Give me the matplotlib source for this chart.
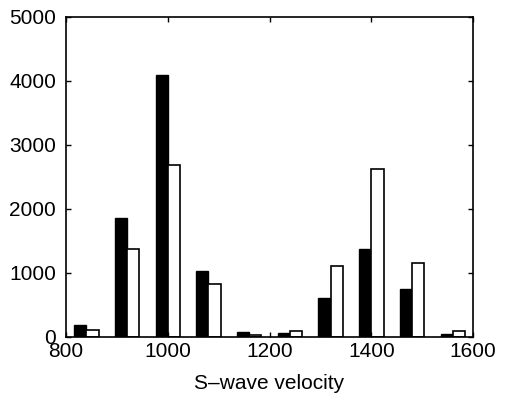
import numpy as np
import matplotlib
matplotlib.use('Agg')
import matplotlib.pyplot as plt

plt.rcParams['font.family'] = ['Liberation Sans', 'DejaVu Sans']

# bin centres (S-wave velocity) and counts for the two series
bin_centers = np.array([840, 920, 1000, 1080, 1160, 1240, 1320, 1400, 1480, 1560])
counts_black = np.array([180, 1860, 4090, 1030, 70, 60, 600, 1380, 740, 40])
counts_white = np.array([110, 1370, 2680, 820, 25, 85, 1100, 2620, 1150, 85])

bar_w = 24

fig = plt.figure(figsize=(5.11, 4.01), dpi=100)
ax = fig.add_axes([0.129, 0.160, 0.797, 0.798])

ax.bar(bin_centers - bar_w / 2, counts_black, width=bar_w, color='black',
       edgecolor='black', linewidth=1)
ax.bar(bin_centers + bar_w / 2, counts_white, width=bar_w, color='white',
       edgecolor='black', linewidth=1.2)

ax.set_xlim(800, 1600)
ax.set_ylim(0, 5000)
ax.set_xticks([800, 1000, 1200, 1400, 1600])
ax.set_yticks([0, 1000, 2000, 3000, 4000, 5000])
ax.tick_params(direction='in', top=True, right=True, length=3.5, width=1,
               labelsize=15)
ax.tick_params(axis='y', pad=7)
ax.tick_params(axis='x', pad=4)
for s in ax.spines.values():
    s.set_linewidth(1.2)
ax.set_xlabel('S–wave velocity', fontsize=15, labelpad=9)

fig.savefig('out.png', dpi=100)
